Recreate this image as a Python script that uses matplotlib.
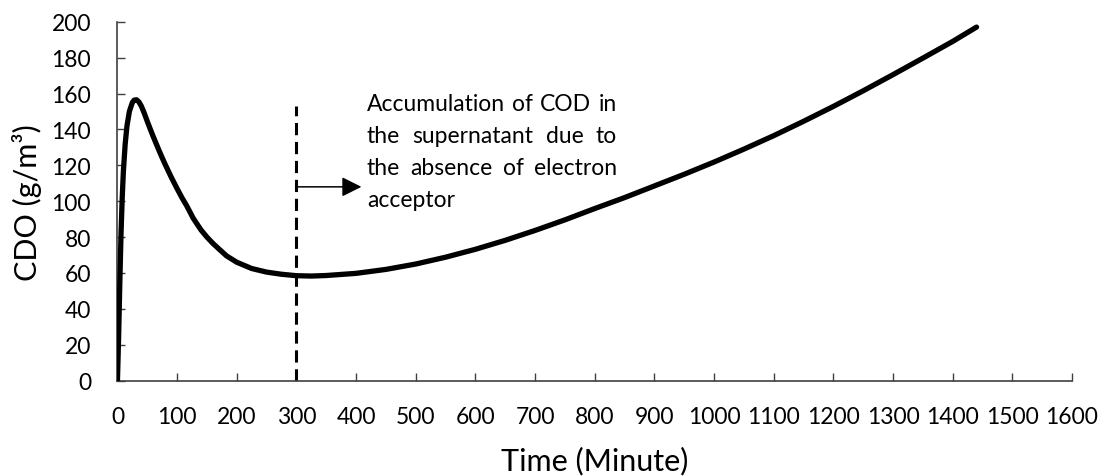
import matplotlib
matplotlib.use("Agg")
import matplotlib.pyplot as plt
import numpy as np

plt.rcParams["font.family"] = ["Lato", "DejaVu Sans"]

# COD concentration in the reactor over one day of operation
time_min = [0, 2, 4, 6, 8, 10, 13, 16, 20, 25, 28, 32, 36, 40, 45, 50, 55, 60,
            65, 70, 75, 80, 90, 100, 108, 116, 127, 140, 150, 160, 172, 183,
            200, 225, 250, 275, 300, 325, 350, 400, 450, 500, 550, 600, 650,
            700, 750, 800, 850, 900, 950, 1000, 1050, 1100, 1150, 1200, 1250,
            1300, 1350, 1400, 1440]
cod = [0, 25, 55, 82, 102, 117, 132, 142, 150, 155, 156.3, 156.5, 155.3, 153,
       149, 144.5, 140.2, 136, 132, 128, 124.2, 120.5, 113.5, 107, 102, 97.5,
       90.5, 84, 80, 76.5, 72.8, 69.5, 66, 62.5, 60.5, 59.3, 58.5, 58.3, 58.6,
       59.8, 62, 65, 68.8, 73.2, 78.2, 83.7, 89.6, 95.9, 102, 108.5, 115,
       121.8, 129, 136.5, 144.5, 152.8, 161.5, 170.5, 179.7, 189, 197]

x_ticks = list(range(0, 1601, 100))
y_ticks = list(range(0, 201, 20))

marker_time = 300          # end of the aerated phase
marker_top = 153
arrow_level = 108
arrow_tip = 409

note_lines = ["Accumulation of COD in",
              "the supernatant due to",
              "the absence of electron",
              "acceptor"]
note_x = 418
note_right = 837
note_baselines = [150.8, 132.9, 115.1, 97.3]

fig = plt.figure(figsize=(11.08, 4.77), dpi=100)
ax = fig.add_axes([0.106, 0.1998, 0.8615, 0.7526])

ax.plot(time_min, cod, color="black", lw=3.8, solid_joinstyle="round",
        solid_capstyle="round", zorder=3)
ax.plot([marker_time, marker_time], [0, marker_top], color="black", lw=2.2,
        linestyle=(0, (4, 2.2)), zorder=2)
ax.annotate("", xy=(arrow_tip, arrow_level), xytext=(marker_time, arrow_level),
            arrowprops=dict(arrowstyle="-|>", lw=1.1, color="black",
                            mutation_scale=30, shrinkA=0, shrinkB=0))

ax.set_xlim(0, 1600)
ax.set_ylim(0, 200)
ax.set_xticks(x_ticks)
ax.set_yticks(y_ticks)
ax.tick_params(axis="both", direction="in", length=6, width=1.0,
               color="#404040", labelsize=16.5, labelcolor="black")
ax.tick_params(axis="x", pad=18.5)
ax.tick_params(axis="y", pad=19)
for side in ("top", "right"):
    ax.spines[side].set_visible(False)
for side in ("left", "bottom"):
    ax.spines[side].set_color("#404040")
    ax.spines[side].set_linewidth(1.2)

ax.set_xlabel("Time (Minute)", fontsize=22, labelpad=13)
ax.set_ylabel("CDO (g/m³)", fontsize=22, labelpad=7)

# justified annotation block: words spread across a fixed width
note_size = 16.5
renderer = fig.canvas.get_renderer()
x_left_px = ax.transData.transform((note_x, 0))[0]
x_right_px = ax.transData.transform((note_right, 0))[0]
for i, (line, yb) in enumerate(zip(note_lines, note_baselines)):
    words = line.split(" ")
    if i == len(note_lines) - 1 or len(words) == 1:
        ax.text(note_x, yb, line, fontsize=note_size, va="baseline", ha="left")
        continue
    texts = [ax.text(note_x, yb, w, fontsize=note_size, va="baseline",
                     ha="left") for w in words]
    widths = [t.get_window_extent(renderer).width for t in texts]
    gap = (x_right_px - x_left_px - sum(widths)) / (len(words) - 1)
    pos = x_left_px
    for t, w in zip(texts, widths):
        xd = ax.transData.inverted().transform((pos, 0))[0]
        t.set_x(xd)
        pos += w + gap

fig.savefig("out.png", dpi=100, facecolor="white")
